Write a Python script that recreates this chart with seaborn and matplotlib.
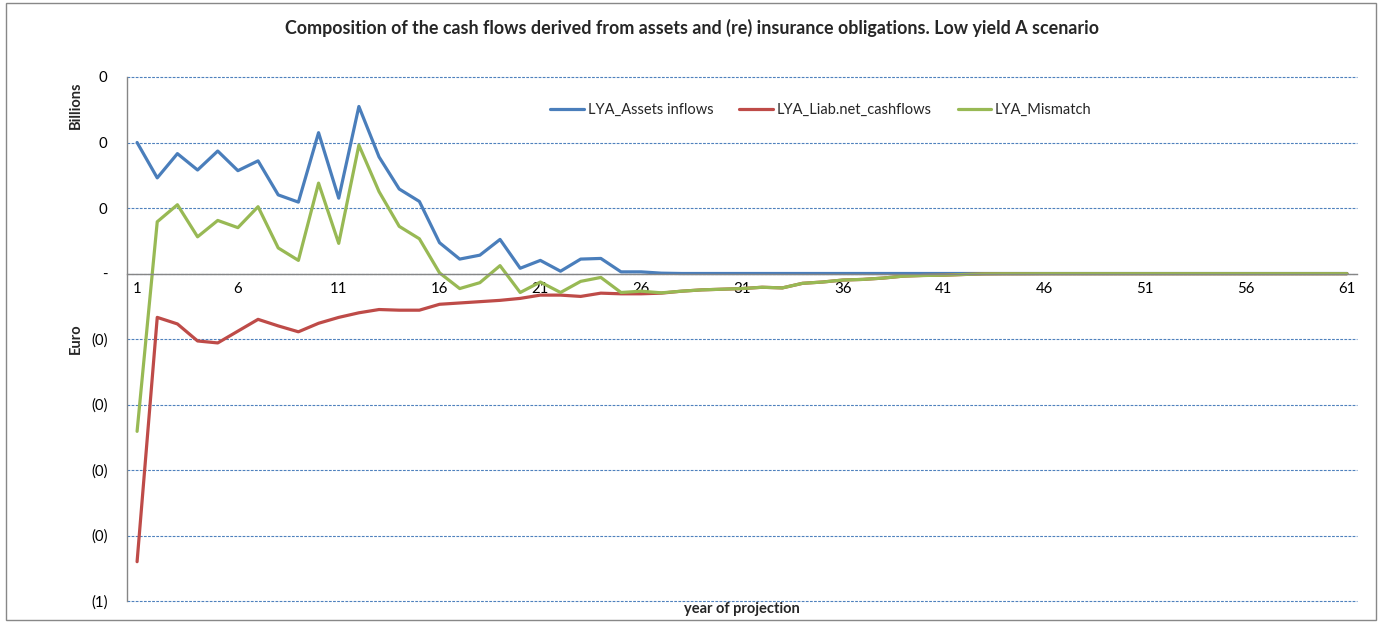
import numpy as np
import pandas as pd
import matplotlib
matplotlib.use("Agg")
import matplotlib.pyplot as plt
import seaborn as sns
from matplotlib.patches import Rectangle

years = list(range(1, 62))

assets_inflows = [0.200, 0.146, 0.183, 0.158, 0.187, 0.157, 0.172, 0.120, 0.109, 0.215,
                  0.115, 0.255, 0.178, 0.129, 0.110, 0.047, 0.022, 0.028, 0.052, 0.008,
                  0.020, 0.0035, 0.022, 0.023, 0.0025, 0.0025, 0.0005, 0.0, 0.0, 0.0,
                  0.0, 0.0, 0.0, 0.0, 0.0, 0.0, 0.0, 0.0, 0.0, 0.0,
                  0.0, 0.0, 0.0, 0.0, 0.0, 0.0, 0.0, 0.0, 0.0, 0.0,
                  0.0, 0.0, 0.0, 0.0, 0.0, 0.0, 0.0, 0.0, 0.0, 0.0, 0.0]

liab_net_cashflows = [-0.440, -0.067, -0.077, -0.103, -0.106, -0.088, -0.070, -0.080, -0.089, -0.076,
                      -0.067, -0.060, -0.055, -0.056, -0.056, -0.047, -0.045, -0.043, -0.041, -0.038,
                      -0.033, -0.033, -0.035, -0.030, -0.031, -0.031, -0.030, -0.027, -0.025, -0.024,
                      -0.023, -0.021, -0.022, -0.015, -0.013, -0.010, -0.009, -0.007, -0.004, -0.003,
                      -0.0026, -0.0015, -0.0006, -0.0004, -0.0004, -0.0003, -0.0003, -0.0003, -0.0003, -0.0003,
                      -0.0003, -0.0003, -0.0003, -0.0003, -0.0003, -0.0003, -0.0003, -0.0003, -0.0003, -0.0003, -0.0003]

mismatch = [-0.241, 0.079, 0.105, 0.056, 0.081, 0.070, 0.102, 0.039, 0.020, 0.138,
            0.046, 0.196, 0.125, 0.072, 0.053, 0.001, -0.023, -0.014, 0.012, -0.029,
            -0.013, -0.029, -0.012, -0.006, -0.029, -0.027, -0.0295, -0.027, -0.025, -0.024,
            -0.023, -0.021, -0.022, -0.015, -0.013, -0.010, -0.009, -0.007, -0.004, -0.003,
            -0.0026, -0.0015, -0.0006, -0.0004, -0.0004, -0.0003, -0.0003, -0.0003, -0.0003, -0.0003,
            -0.0003, -0.0003, -0.0003, -0.0003, -0.0003, -0.0003, -0.0003, -0.0003, -0.0003, -0.0003, -0.0003]

series_names = ["LYA_Assets inflows", "LYA_Liab.net_cashflows", "LYA_Mismatch"]
series_colors = ["#4A7EBB", "#BE4B48", "#98B954"]

x_tick_values = list(range(1, 62, 5))
x_tick_labels = [str(v) for v in x_tick_values]
y_tick_values = [0.3, 0.2, 0.1, 0.0, -0.1, -0.2, -0.3, -0.4, -0.5]
y_tick_labels = ["0", "0", "0", "-", "(0)", "(0)", "(0)", "(0)", "(1)"]

title = "Composition of the cash flows derived from assets and (re) insurance obligations. Low yield A scenario"

df = pd.concat([
    pd.DataFrame({"year": years, "value": vals, "series": name})
    for name, vals in zip(series_names, [assets_inflows, liab_net_cashflows, mismatch])
], ignore_index=True)

sns.set_theme(style="white")
plt.rcParams["font.family"] = ["Lato", "DejaVu Sans"]

W, H = 1381, 622
fig = plt.figure(figsize=(W / 100, H / 100), dpi=100)
ax = fig.add_axes([127 / W, 1 - 601 / H, (1357 - 127) / W, (601 - 77) / H])

sns.lineplot(data=df, x="year", y="value", hue="series", hue_order=series_names,
             palette=series_colors, linewidth=2.3, ax=ax, legend=True)

ax.set_xlim(0.5, 61.5)
ax.set_ylim(-0.5, 0.3)
ax.set_xticks(x_tick_values)
ax.set_xticklabels(x_tick_labels)
ax.set_yticks(y_tick_values)
ax.set_yticklabels(y_tick_labels)
ax.tick_params(axis="both", length=0, labelsize=10.8, colors="#000000")
ax.tick_params(axis="y", pad=14)
ax.tick_params(axis="x", pad=6)

ax.yaxis.grid(True, linestyle=(0, (2.5, 1.2)), color="#4F81BD", linewidth=0.8)
ax.xaxis.grid(False)
for gl in ax.get_ygridlines():
    gl.set_clip_on(False)
for s in ["top", "right"]:
    ax.spines[s].set_visible(False)
ax.spines["bottom"].set_position(("data", 0))
ax.spines["bottom"].set_color("#868686")
ax.spines["bottom"].set_linewidth(1.0)
ax.spines["left"].set_color("#868686")
ax.spines["left"].set_linewidth(1.0)
ax.set_xlabel("")
ax.set_ylabel("")

handles, labels = ax.get_legend_handles_labels()
ax.legend(handles, labels, loc="center", bbox_to_anchor=(821 / W, 1 - 110 / H),
          bbox_transform=fig.transFigure, ncol=3, frameon=False, fontsize=10.5,
          handlelength=2.3, handletextpad=0.25, columnspacing=1.8)

fig.text(692 / W, 1 - 28 / H, title, ha="center", va="center", fontsize=12.9, fontweight="bold")
fig.text(76 / W, 1 - 105 / H, "Billions", ha="center", va="center", rotation=90, fontsize=10.5, fontweight="bold")
fig.text(76 / W, 1 - 339 / H, "Euro", ha="center", va="center", rotation=90, fontsize=10.5, fontweight="bold")
fig.text(742 / W, 1 - 609 / H, "year of projection", ha="center", va="center", fontsize=10.5, fontweight="bold")

fig.patches.append(Rectangle((6 / W, 1 - 620 / H), 1370 / W, 617 / H, transform=fig.transFigure,
                             fill=False, edgecolor="#888888", linewidth=1.0))

fig.savefig("out.png", dpi=100, facecolor="white")
